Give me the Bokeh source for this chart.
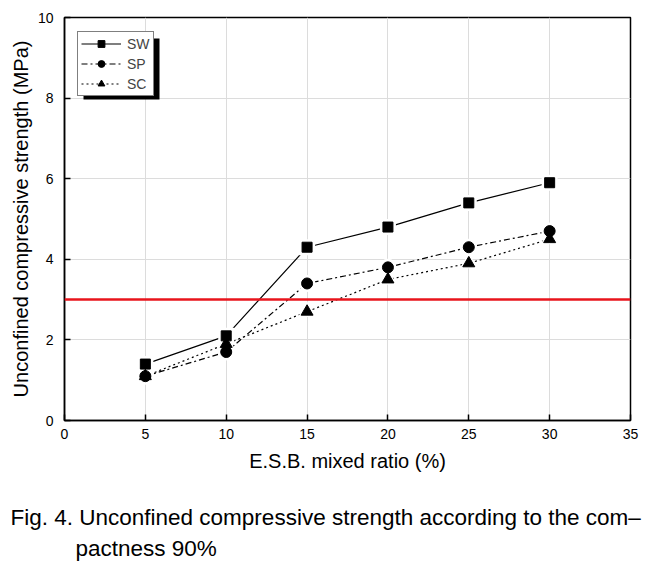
from bokeh.plotting import figure
from bokeh.models import Range1d, Span, Legend, LegendItem, Title, BoxAnnotation, FixedTicker
from bokeh.embed import file_html
from bokeh.resources import INLINE

ratio = [5, 10, 15, 20, 25, 30]
sw = [1.4, 2.1, 4.3, 4.8, 5.4, 5.9]
sp = [1.1, 1.7, 3.4, 3.8, 4.3, 4.7]
sc = [1.1, 1.9, 2.7, 3.5, 3.9, 4.5]
x_ticks = [0, 5, 10, 15, 20, 25, 30, 35]
y_ticks = [0, 2, 4, 6, 8, 10]
threshold = 3.0

FONT = "Liberation Sans"

p = figure(width=653, height=561, output_backend="svg", toolbar_location=None, title=None,
           x_range=Range1d(0, 35), y_range=Range1d(0, 10),
           min_border_left=64, min_border_right=23, min_border_top=17, min_border_bottom=20)
p.outline_line_color = "black"
p.outline_line_width = 1.5
p.background_fill_color = "white"
p.border_fill_color = "white"

for ax in (p.xaxis[0], p.yaxis[0]):
    ax.major_tick_in = 6
    ax.major_tick_out = 0
    ax.minor_tick_line_color = None
    ax.axis_line_width = 1.5
    ax.major_tick_line_width = 1.5
    ax.major_label_text_font = FONT
    ax.major_label_text_font_size = "14px"
    ax.major_label_text_color = "black"
    ax.axis_label_text_font = FONT
    ax.axis_label_text_font_size = "20px"
    ax.axis_label_text_font_style = "normal"
    ax.axis_label_text_color = "black"

p.xaxis.ticker = FixedTicker(ticks=x_ticks)
p.yaxis.ticker = FixedTicker(ticks=y_ticks)
p.xaxis.axis_label = "E.S.B. mixed ratio (%)"
p.yaxis.axis_label = "Unconfined compressive strength (MPa)"
p.xaxis.major_label_standoff = 8
p.yaxis.major_label_standoff = 11
p.xaxis.axis_label_standoff = 8
p.yaxis.axis_label_standoff = 3

p.xgrid.ticker = FixedTicker(ticks=x_ticks)
p.ygrid.ticker = FixedTicker(ticks=y_ticks)
p.grid.grid_line_color = "#dcdcdc"
p.grid.grid_line_width = 1

p.add_layout(Span(location=threshold, dimension="width", line_color="#e8141c", line_width=2.5))

r_sw = p.line(ratio, sw, line_color="black", line_width=1.2)
r_sp = p.line(ratio, sp, line_color="black", line_width=1.2, line_dash="6 3 2 3")
r_sc = p.line(ratio, sc, line_color="black", line_width=1.2, line_dash="2 3")

p.scatter(ratio, sw, marker="square", size=16, fill_color="white", line_color=None)
p.scatter(ratio, sp, marker="circle", size=17, fill_color="white", line_color=None)
p.scatter(ratio, sc, marker="triangle", size=18, fill_color="white", line_color=None)

m_sw = p.scatter(ratio, sw, marker="square", size=10, fill_color="black", line_color="black")
m_sp = p.scatter(ratio, sp, marker="circle", size=11, fill_color="black", line_color="black")
m_sc = p.scatter(ratio, sc, marker="triangle", size=12, fill_color="black", line_color="black")

shadow = BoxAnnotation(left=19, right=95, top=382, bottom=321,
                       left_units="screen", right_units="screen",
                       top_units="screen", bottom_units="screen",
                       fill_color="black", fill_alpha=1, line_color=None)
p.add_layout(shadow)

legend = Legend(items=[LegendItem(label="SW", renderers=[r_sw, m_sw]),
                       LegendItem(label="SP", renderers=[r_sp, m_sp]),
                       LegendItem(label="SC", renderers=[r_sc, m_sc])],
                location=(13, 324))
legend.label_text_font = FONT
legend.label_text_font_size = "14px"
legend.border_line_color = "black"
legend.border_line_width = 1
legend.background_fill_alpha = 1
legend.glyph_width = 40
legend.glyph_height = 17
legend.spacing = 3
legend.padding = 3
legend.margin = 0
legend.label_standoff = 6
legend.label_height = 17
legend.label_width = 10
p.add_layout(legend)

spacer = Title(text=" ", standoff=22, text_font_size="1px")
cap1 = Title(text="Fig. 4. Unconfined compressive strength according to the com\u2013",
             align="left", offset=-54, standoff=6, text_line_height=1.0,
             text_font=FONT, text_font_size="22.5px", text_font_style="normal", text_color="black")
cap2 = Title(text="pactness 90%", align="left", offset=11, standoff=2, text_line_height=1.0,
             text_font=FONT, text_font_size="22.5px", text_font_style="normal", text_color="black")
p.add_layout(spacer, "below")
p.add_layout(cap1, "below")
p.add_layout(cap2, "below")

open("out.html", "w").write(file_html(p, INLINE))
